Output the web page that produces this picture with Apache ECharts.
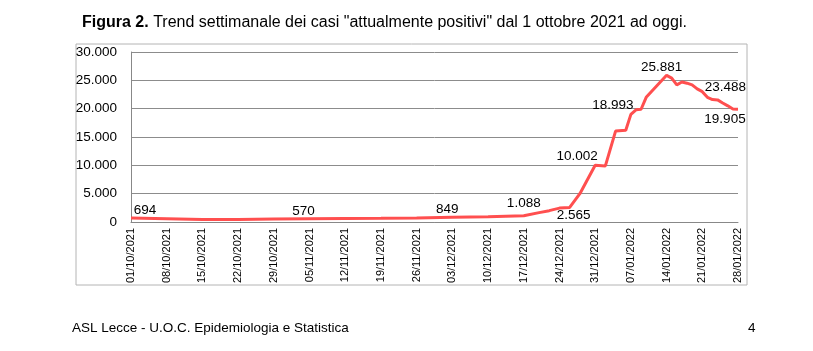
<!DOCTYPE html>
<html style="height: 100%">
    <head>
        <meta charset="utf-8">
    </head>
    <body style="height: 100%; margin: 0; background: #fff">
        <div id="container" style="width: 813px; height: 351px"></div>
        <script type="text/javascript" src="https://cdn.jsdelivr.net/npm/echarts@6/dist/echarts.min.js"></script>
        <script type="text/javascript">

// giorni dal 01/10/2021 (indice) e valori
var startDate = [2021, 9, 1];
var nDays = 120;
var pointDays   = [0,   7,   14,  21,  28,  35,  42,  49,  56,  63,  70,  77,   80,   82,   84,   86,   88,   91,    93,   95,    97,    98,    99,    100,   101,   102,   105,   106,   107,   108,   109,   110,   111,   112,   113,   114,   115,   116,   117,   118,   119];
var pointValues = [694, 560, 440, 430, 520, 570, 610, 650, 710, 849, 910, 1088, 1650, 2000, 2450, 2565, 5000, 10002, 9900, 16050, 16200, 18993, 19800, 19900, 22000, 23000, 25881, 25400, 24200, 24700, 24500, 24200, 23488, 23000, 22000, 21600, 21550, 21000, 20500, 19950, 19905];
// punti con etichetta
var labelDays = [0, 35, 63, 77, 86, 91, 98, 105, 111, 119];

var titleBold = 'Figura 2.';
var titleText = ' Trend settimanale dei casi "attualmente positivi" dal 1 ottobre 2021 ad oggi.';
var footerLeft = 'ASL Lecce - U.O.C. Epidemiologia e Statistica';
var footerRight = '4';

function pad(n){ return (n < 10 ? '0' : '') + n; }
function fmt(v){ return String(v).replace(/\B(?=(\d{3})+(?!\d))/g, '.'); }

var categories = [];
for (var i = 0; i < nDays; i++) {
    var d = new Date(Date.UTC(startDate[0], startDate[1], startDate[2] + i));
    categories.push(pad(d.getUTCDate()) + '/' + pad(d.getUTCMonth() + 1) + '/' + d.getUTCFullYear());
}

// posizione etichette (stile)
var labelPos = {
    0:   { position: 'top', offset: [14, 5] },
    35:  { position: 'top', offset: [-6, 5] },
    63:  { position: 'top', offset: [-5, 5] },
    77:  { position: 'top', offset: [0, 0] },
    86:  { position: 'bottom', offset: [4, -5] },
    91:  { position: 'top', offset: [-18, 3] },
    98:  { position: 'top', offset: [-18, 3] },
    105: { position: 'top', offset: [-5, 4] },
    111: { position: 'right', offset: [2, -2] },
    119: { position: 'bottom', offset: [-13, -2] }
};

var seriesData = [];
for (var i = 0; i < nDays; i++) seriesData.push(null);
for (var k = 0; k < pointDays.length; k++) {
    var item = { value: pointValues[k] };
    if (labelDays.indexOf(pointDays[k]) >= 0) {
        var lp = labelPos[pointDays[k]];
        item.label = { show: true, position: lp.position, offset: lp.offset };
    }
    seriesData[pointDays[k]] = item;
}

var FONT = 'Liberation Sans';
var dom = document.getElementById('container');
var myChart = echarts.init(dom);

var option = {
    animation: false,
    backgroundColor: '#fff',
    title: {
        text: '{b|' + titleBold + '}' + titleText,
        left: 77,
        top: 10,
        textStyle: {
            fontFamily: FONT, fontSize: 16, fontWeight: 'normal', color: '#000',
            rich: { b: { fontFamily: FONT, fontSize: 16, fontWeight: 'bold', color: '#000' } }
        }
    },
    graphic: [
        { type: 'rect', shape: { x: 76, y: 44, width: 671, height: 241 }, style: { fill: 'none', stroke: '#b4b4b4', lineWidth: 1 }, z: -1 },
        { type: 'text', left: 72, top: 321, style: { text: footerLeft, font: '13.5px ' + FONT, fill: '#000' } },
        { type: 'text', left: 748, top: 321, style: { text: footerRight, font: '13.5px ' + FONT, fill: '#000' } }
    ],
    grid: { left: 131, right: 75, top: 52, bottom: 129 },
    xAxis: {
        type: 'category',
        data: categories,
        boundaryGap: false,
        axisLine: { lineStyle: { color: '#888' } },
        axisTick: { show: false },
        axisLabel: { interval: 6, rotate: 90, fontFamily: FONT, fontSize: 11, color: '#000', margin: 6 }
    },
    yAxis: {
        type: 'value',
        min: 0, max: 30000, interval: 5000,
        axisLine: { show: true, lineStyle: { color: '#888' } },
        axisTick: { show: false },
        splitLine: { lineStyle: { color: '#8c8c8c' } },
        axisLabel: { fontFamily: FONT, fontSize: 13.5, color: '#000', margin: 14, formatter: function (v) { return fmt(v); } }
    },
    series: [{
        type: 'line',
        data: seriesData,
        connectNulls: true,
        showSymbol: true,
        showAllSymbol: true,
        symbol: 'circle',
        symbolSize: 1,
        itemStyle: { color: 'rgba(0,0,0,0)' },
        lineStyle: { color: '#ff4f4f', width: 3 },
        label: { fontFamily: FONT, fontSize: 13.5, color: '#000', formatter: function (p) { return fmt(p.value); } }
    }]
};
myChart.setOption(option);

        </script>
    </body>
</html>
